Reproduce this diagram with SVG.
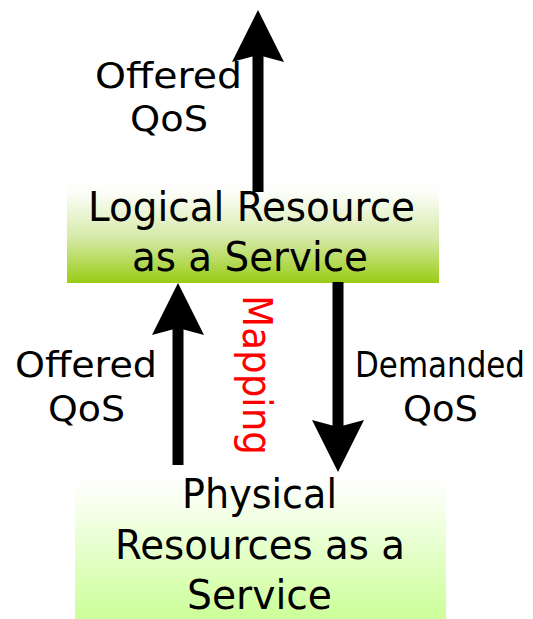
<svg xmlns="http://www.w3.org/2000/svg" width="533" height="619" viewBox="0 0 533 619">
  <style>
    .t { font-family: "DejaVu Sans", "Noto Sans", sans-serif; fill: #000; text-anchor: middle; }
    .lbl { font-size: 36px; }
    .node { font-size: 40px; }
    .map { font-size: 40px; fill: #ff0000; }
    .shaft { stroke: #000; stroke-width: 11; fill: none; marker-end: url(#head); }
  </style>
  <defs>
    <linearGradient id="gTop" x1="0" y1="0" x2="0" y2="1">
      <stop offset="0" stop-color="#ffffff"/>
      <stop offset="0.12" stop-color="#fbfdf6"/>
      <stop offset="0.55" stop-color="#d6eaa8"/>
      <stop offset="1" stop-color="#99cc14"/>
    </linearGradient>
    <linearGradient id="gBot" x1="0" y1="0" x2="0" y2="1">
      <stop offset="0" stop-color="#ffffff"/>
      <stop offset="0.1" stop-color="#fbfff6"/>
      <stop offset="1" stop-color="#ccff99"/>
    </linearGradient>
    <marker id="head" markerUnits="userSpaceOnUse" viewBox="0 0 54 54" markerWidth="54" markerHeight="54" refX="12" refY="27" orient="auto">
      <path d="M0,1 L52,27 L0,53 L7,27 Z" fill="#000"/>
    </marker>
  </defs>

  <rect width="533" height="619" fill="#ffffff"/>

  <g id="logical">
    <rect x="67" y="182" width="372" height="101" fill="url(#gTop)"/>
  </g>
  <g id="physical">
    <rect x="75" y="478" width="371" height="141" fill="url(#gBot)"/>
  </g>

  <g id="connectors">
    <line class="shaft" x1="258" y1="192" x2="258" y2="50"/>
    <line class="shaft" x1="178" y1="465" x2="178" y2="323"/>
    <line class="shaft" x1="338" y1="282" x2="338" y2="432"/>
  </g>

  <g id="logical-label">
    <text class="t node" x="251.5" y="221" textLength="327" lengthAdjust="spacingAndGlyphs">Logical Resource</text>
    <text class="t node" x="250" y="271" textLength="236" lengthAdjust="spacingAndGlyphs">as a Service</text>
  </g>
  <g id="physical-label">
    <text class="t node" x="259.5" y="508" textLength="155" lengthAdjust="spacingAndGlyphs">Physical</text>
    <text class="t node" x="260" y="559" textLength="290" lengthAdjust="spacingAndGlyphs">Resources as a</text>
    <text class="t node" x="259.5" y="609" textLength="145" lengthAdjust="spacingAndGlyphs">Service</text>
  </g>

  <g id="label-offered-top">
    <text class="t lbl" x="168.5" y="88" textLength="147" lengthAdjust="spacingAndGlyphs">Offered</text>
    <text class="t lbl" x="169" y="131" textLength="78" lengthAdjust="spacingAndGlyphs">QoS</text>
  </g>
  <g id="label-offered-left">
    <text class="t lbl" x="86" y="377" textLength="142" lengthAdjust="spacingAndGlyphs">Offered</text>
    <text class="t lbl" x="86.5" y="421" textLength="77" lengthAdjust="spacingAndGlyphs">QoS</text>
  </g>
  <g id="label-demanded">
    <text class="t" transform="translate(440 377) scale(1 1.15)" x="0" y="0" font-size="31" textLength="170" lengthAdjust="spacingAndGlyphs">Demanded</text>
    <text class="t lbl" x="440.5" y="421" textLength="75" lengthAdjust="spacingAndGlyphs">QoS</text>
  </g>
  <g id="label-mapping">
    <text class="t map" transform="translate(243 375) rotate(90)" x="0" y="0" textLength="160" lengthAdjust="spacingAndGlyphs">Mapping</text>
  </g>
</svg>
